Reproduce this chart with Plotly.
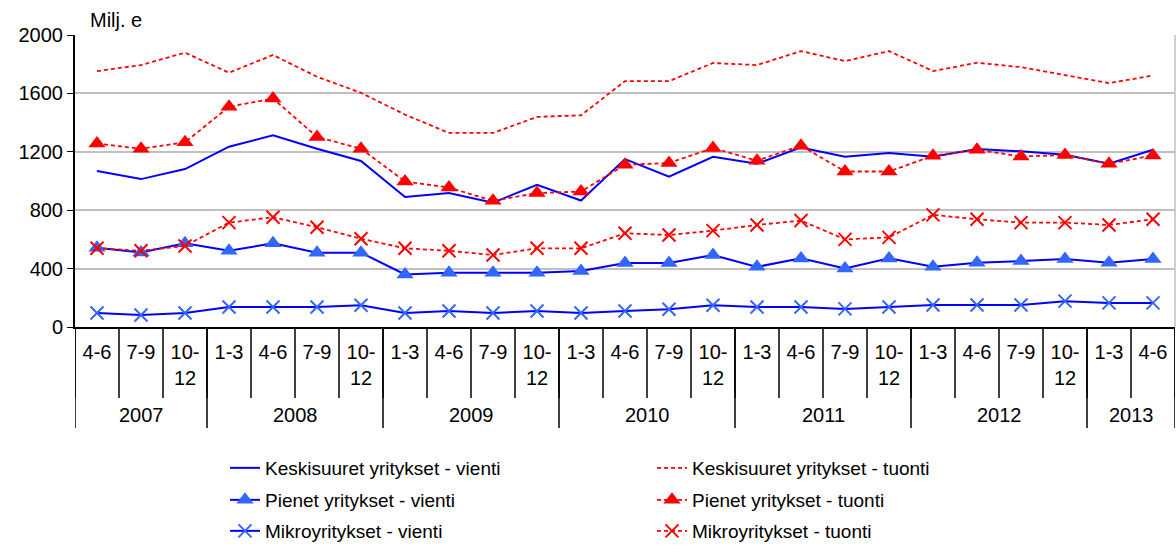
import plotly.graph_objects as go

quarters = ["4-6", "7-9", "10-<br>12",
            "1-3", "4-6", "7-9", "10-<br>12",
            "1-3", "4-6", "7-9", "10-<br>12",
            "1-3", "4-6", "7-9", "10-<br>12",
            "1-3", "4-6", "7-9", "10-<br>12",
            "1-3", "4-6", "7-9", "10-<br>12",
            "1-3", "4-6"]
years = ["2007", "2008", "2009", "2010", "2011", "2012", "2013"]
year_counts = [3, 4, 4, 4, 4, 4, 2]

kesk_vienti = [1068, 1013, 1082, 1235, 1313, 1221, 1137, 891, 917, 852, 974, 866, 1150,
               1029, 1166, 1118, 1230, 1166, 1192, 1166, 1219, 1203, 1180, 1118, 1214]
kesk_tuonti = [1753, 1794, 1879, 1742, 1863, 1714, 1604, 1455, 1329, 1329, 1439, 1450, 1684,
               1684, 1808, 1794, 1890, 1821, 1890, 1753, 1810, 1780, 1725, 1670, 1723]
pien_vienti = [543, 511, 573, 522, 573, 509, 509, 360, 371, 371, 371, 383, 438,
               438, 493, 412, 470, 401, 470, 412, 440, 452, 465, 440, 465]
pien_tuonti = [1256, 1221, 1265, 1508, 1565, 1302, 1221, 997, 955, 864, 917, 928, 1111,
               1123, 1226, 1139, 1242, 1065, 1065, 1173, 1214, 1168, 1178, 1118, 1175]
mikro_vienti = [96, 82, 96, 137, 137, 137, 149, 96, 110, 96, 110, 96, 110,
                122, 149, 137, 137, 124, 137, 151, 151, 151, 177, 165, 165]
mikro_tuonti = [539, 522, 555, 715, 752, 683, 605, 539, 522, 493, 539, 539, 642,
                630, 660, 699, 729, 600, 614, 768, 738, 715, 715, 699, 738]

x = list(range(len(quarters)))
BLUE = "#0000FF"
LBLUE = "#3366FF"
RED = "#FF0000"
FONT = "Liberation Sans, Arial, sans-serif"

fig = go.Figure()

def add(name, y, color, dash, symbol, mcolor, legend):
    mode = "lines" if symbol is None else "lines+markers"
    marker = dict()
    if symbol == "tri":
        marker = dict(symbol="triangle-up", size=15, color=mcolor)
    elif symbol == "x":
        marker = dict(symbol="x-thin", size=13, color=mcolor,
                      line=dict(color=mcolor, width=2))
    fig.add_trace(go.Scatter(x=x, y=y, name=name, mode=mode,
                             line=dict(color=color, width=2 if dash == "solid" else 1.8, dash=dash),
                             marker=marker, legend=legend))

add("Keskisuuret yritykset - vienti", kesk_vienti, BLUE, "solid", None, None, "legend")
add("Keskisuuret yritykset - tuonti", kesk_tuonti, RED, "4px,3px", None, None, "legend")
add("Pienet yritykset - vienti", pien_vienti, BLUE, "solid", "tri", LBLUE, "legend2")
add("Pienet yritykset - tuonti", pien_tuonti, RED, "4px,3px", "tri", RED, "legend2")
add("Mikroyritykset - vienti", mikro_vienti, BLUE, "solid", "x", LBLUE, "legend3")
add("Mikroyritykset - tuonti", mikro_tuonti, RED, "4px,3px", "x", RED, "legend3")

H = 292.0
shapes = []
# quarter dividers
for i in range(len(quarters) + 1):
    shapes.append(dict(type="line", xref="x", yref="paper", x0=i - 0.5, x1=i - 0.5,
                       y0=0, y1=-71 / H, line=dict(color="black", width=1.5)))
# year dividers and labels
annotations = []
pos = 0
bounds = [0]
for yr, c in zip(years, year_counts):
    annotations.append(dict(x=pos + (c - 1) / 2, y=-88 / H, xref="x", yref="paper",
                            text=yr, showarrow=False, font=dict(size=20, color="black", family=FONT),
                            xanchor="center", yanchor="middle"))
    pos += c
    bounds.append(pos)
for b in bounds:
    shapes.append(dict(type="line", xref="x", yref="paper", x0=b - 0.5, x1=b - 0.5,
                       y0=0, y1=-101 / H, line=dict(color="black", width=1.5)))
# right border
shapes.append(dict(type="line", xref="paper", yref="paper", x0=1, x1=1, y0=0, y1=1,
                   line=dict(color="#C0C0C0", width=1.5)))

annotations.append(dict(x=0.012, y=1 + 15 / H, xref="paper", yref="paper", text="Milj. e",
                        showarrow=False, font=dict(size=20, color="black", family=FONT),
                        xanchor="left", yanchor="middle"))

W, HH = 1176.0, 545.0
leg_common = dict(orientation="h", x=225 / W, xref="container", yref="container",
                  xanchor="left", yanchor="middle",
                  entrywidth=382, font=dict(size=19, color="black", family=FONT),
                  bgcolor="rgba(0,0,0,0)", borderwidth=0)

fig.update_layout(
    width=1176, height=545,
    margin=dict(l=75, r=1, t=35, b=218),
    paper_bgcolor="white", plot_bgcolor="white",
    font=dict(family=FONT, size=20, color="black"),
    shapes=shapes, annotations=annotations,
    showlegend=True,
    legend=dict(y=(HH - 468) / HH, **leg_common),
    legend2=dict(y=(HH - 500) / HH, **leg_common),
    legend3=dict(y=(HH - 531) / HH, **leg_common),
    xaxis=dict(range=[-0.5, len(quarters) - 0.5], tickmode="array", tickvals=x, ticktext=quarters,
               showgrid=False, zeroline=False, showline=True, linecolor="black", linewidth=2,
               ticks="outside", ticklen=6, tickcolor="rgba(0,0,0,0)",
               tickfont=dict(size=20, family=FONT, color="black")),
    yaxis=dict(range=[0, 2000], dtick=400, tick0=0, showgrid=True, gridcolor="#C0C0C0",
               gridwidth=1.5, zeroline=False, showline=True, linecolor="black", linewidth=2,
               ticks="outside", ticklen=6, tickcolor="black",
               tickfont=dict(size=20, family=FONT, color="black")),
)

fig.write_html("out.html", config={"displayModeBar": False},
               post_script="document.body.style.margin='0';")
